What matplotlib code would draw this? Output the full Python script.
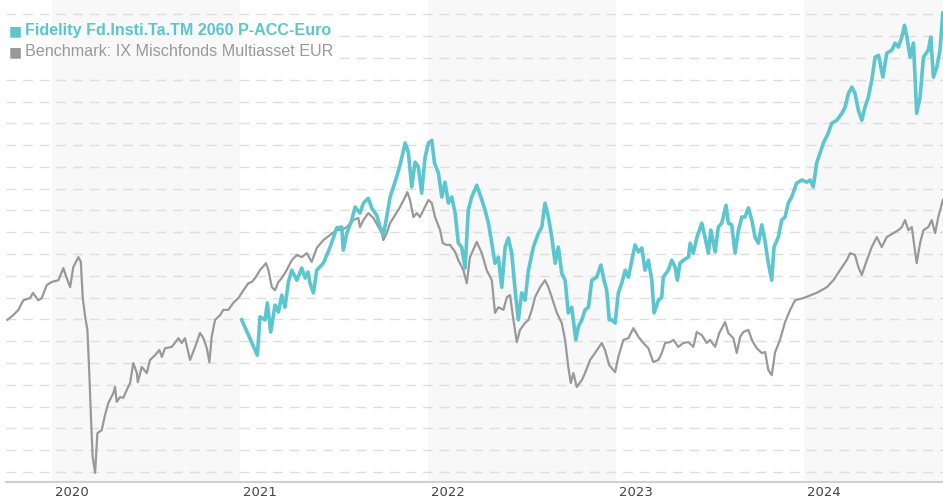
from matplotlib import pyplot as plt
import numpy as np

# benchmark: IX Mischfonds Multiasset EUR (decimal year, index value)
bench_years = [2019.762, 2019.794, 2019.821, 2019.847, 2019.883, 2019.899, 2019.926, 2019.945, 2019.972, 2019.998,
               2020.034, 2020.060, 2020.069, 2020.096, 2020.113, 2020.140, 2020.153, 2020.163, 2020.176, 2020.188,
               2020.198, 2020.206, 2020.216, 2020.229, 2020.238, 2020.241, 2020.264, 2020.282, 2020.299, 2020.326,
               2020.335, 2020.344, 2020.362, 2020.379, 2020.397, 2020.415, 2020.432, 2020.451, 2020.456, 2020.477,
               2020.504, 2020.521, 2020.548, 2020.571, 2020.584, 2020.601, 2020.637, 2020.672, 2020.690, 2020.707,
               2020.734, 2020.761, 2020.787, 2020.805, 2020.823, 2020.837, 2020.849, 2020.867, 2020.894, 2020.911,
               2020.938, 2020.964, 2020.991, 2021.018, 2021.044, 2021.062, 2021.080, 2021.106, 2021.138, 2021.151,
               2021.169, 2021.186, 2021.204, 2021.222, 2021.248, 2021.275, 2021.302, 2021.328, 2021.355, 2021.381,
               2021.408, 2021.443, 2021.479, 2021.514, 2021.541, 2021.568, 2021.603, 2021.629, 2021.638, 2021.656,
               2021.682, 2021.709, 2021.736, 2021.754, 2021.762, 2021.780, 2021.798, 2021.824, 2021.851, 2021.878,
               2021.890, 2021.904, 2021.922, 2021.940, 2021.957, 2021.975, 2022.002, 2022.020, 2022.037, 2022.064,
               2022.078, 2022.099, 2022.117, 2022.144, 2022.161, 2022.188, 2022.206, 2022.223, 2022.259, 2022.286,
               2022.312, 2022.339, 2022.356, 2022.374, 2022.401, 2022.419, 2022.436, 2022.454, 2022.472, 2022.489,
               2022.516, 2022.534, 2022.552, 2022.569, 2022.596, 2022.622, 2022.640, 2022.658, 2022.685, 2022.711,
               2022.729, 2022.746, 2022.759, 2022.773, 2022.791, 2022.818, 2022.835, 2022.862, 2022.888, 2022.924,
               2022.941, 2022.964, 2022.995, 2023.012, 2023.039, 2023.066, 2023.092, 2023.119, 2023.145, 2023.172,
               2023.198, 2023.225, 2023.243, 2023.261, 2023.287, 2023.305, 2023.331, 2023.358, 2023.385, 2023.411,
               2023.429, 2023.456, 2023.482, 2023.500, 2023.527, 2023.549, 2023.580, 2023.597, 2023.624, 2023.642,
               2023.660, 2023.677, 2023.704, 2023.722, 2023.748, 2023.775, 2023.793, 2023.810, 2023.828, 2023.846,
               2023.872, 2023.899, 2023.926, 2023.952, 2023.996, 2024.067, 2024.121, 2024.156, 2024.191, 2024.227,
               2024.245, 2024.271, 2024.289, 2024.307, 2024.334, 2024.360, 2024.387, 2024.413, 2024.440, 2024.475,
               2024.502, 2024.520, 2024.537, 2024.555, 2024.573, 2024.599, 2024.617, 2024.635, 2024.661, 2024.679,
               2024.697, 2024.714, 2024.738]
bench_values = [94.9, 96.0, 97.2, 99.4, 99.9, 101.1, 99.4, 99.9, 102.9, 103.6,
                104.0, 106.8, 105.6, 102.4, 107.0, 109.3, 108.2, 100.1, 95.6, 92.6,
                82.7, 73.5, 63.4, 59.8, 66.7, 68.9, 69.6, 73.1, 75.8, 78.1,
                79.5, 76.1, 77.2, 77.0, 78.8, 80.4, 85.0, 82.7, 80.6, 84.1,
                82.7, 85.7, 86.8, 88.0, 86.4, 88.4, 88.7, 90.7, 89.6, 90.7,
                85.7, 88.7, 91.9, 90.7, 88.4, 85.2, 91.0, 94.9, 96.0, 97.2,
                97.2, 98.8, 99.9, 101.7, 103.3, 103.6, 104.5, 106.3, 107.9, 106.3,
                102.4, 101.7, 103.6, 104.5, 106.3, 108.6, 109.8, 109.3, 110.2, 108.2,
                111.4, 113.2, 114.4, 115.5, 115.5, 116.2, 117.8, 118.3, 116.2, 117.8,
                119.4, 118.3, 116.2, 114.8, 113.2, 114.8, 117.1, 118.9, 120.8, 123.1,
                124.2, 122.4, 118.5, 119.4, 118.5, 120.1, 122.4, 121.7, 118.5, 115.5,
                112.5, 112.1, 112.1, 110.5, 108.6, 106.3, 103.3, 109.3, 112.8, 110.2,
                106.3, 104.0, 96.5, 97.8, 97.2, 100.1, 100.6, 94.9, 89.8, 92.6,
                94.2, 94.9, 97.2, 100.1, 102.4, 104.0, 102.4, 100.1, 96.5, 94.2,
                90.3, 84.1, 80.4, 82.7, 79.5, 81.1, 82.7, 85.7, 87.3, 89.6,
                88.0, 84.5, 82.9, 86.4, 90.3, 90.7, 93.0, 91.0, 89.6, 88.4,
                85.2, 85.7, 87.3, 89.6, 89.8, 90.3, 88.7, 89.6, 89.8, 88.7,
                92.1, 91.4, 89.6, 90.3, 88.7, 91.9, 94.4, 91.9, 90.7, 87.3,
                91.0, 92.1, 92.6, 90.3, 88.4, 87.3, 87.5, 83.4, 82.2, 87.5,
                90.3, 94.4, 97.2, 99.4, 99.9, 101.1, 102.4, 104.0, 106.3, 108.6,
                110.2, 109.8, 107.0, 105.2, 108.6, 111.6, 113.9, 111.6, 113.9, 114.8,
                115.5, 116.2, 117.8, 115.5, 116.2, 107.9, 112.5, 115.5, 116.2, 117.8,
                114.8, 118.5, 122.4]

# fund: Fidelity Fd.Insti.Ta.TM 2060 P-ACC-Euro
fund_years = [2021.009, 2021.092, 2021.106, 2021.133, 2021.145, 2021.163, 2021.186, 2021.204, 2021.222, 2021.239,
              2021.257, 2021.275, 2021.302, 2021.328, 2021.346, 2021.362, 2021.372, 2021.390, 2021.408, 2021.443,
              2021.479, 2021.514, 2021.541, 2021.549, 2021.568, 2021.594, 2021.612, 2021.638, 2021.656, 2021.682,
              2021.700, 2021.727, 2021.745, 2021.762, 2021.777, 2021.798, 2021.824, 2021.851, 2021.878, 2021.895,
              2021.913, 2021.931, 2021.948, 2021.966, 2021.984, 2022.002, 2022.020, 2022.034, 2022.055, 2022.073,
              2022.090, 2022.108, 2022.126, 2022.144, 2022.161, 2022.179, 2022.197, 2022.214, 2022.232, 2022.259,
              2022.286, 2022.303, 2022.321, 2022.339, 2022.356, 2022.374, 2022.392, 2022.410, 2022.427, 2022.445,
              2022.463, 2022.480, 2022.498, 2022.516, 2022.534, 2022.560, 2022.587, 2022.605, 2022.622, 2022.640,
              2022.658, 2022.676, 2022.693, 2022.711, 2022.729, 2022.746, 2022.764, 2022.786, 2022.799, 2022.818,
              2022.835, 2022.853, 2022.871, 2022.897, 2022.919, 2022.936, 2022.950, 2022.964, 2022.977, 2022.995,
              2023.012, 2023.030, 2023.048, 2023.066, 2023.084, 2023.101, 2023.119, 2023.137, 2023.154, 2023.172,
              2023.190, 2023.202, 2023.225, 2023.243, 2023.251, 2023.278, 2023.296, 2023.314, 2023.326, 2023.340,
              2023.358, 2023.385, 2023.394, 2023.411, 2023.429, 2023.456, 2023.473, 2023.491, 2023.504, 2023.527,
              2023.544, 2023.562, 2023.585, 2023.597, 2023.615, 2023.633, 2023.651, 2023.669, 2023.686, 2023.704,
              2023.722, 2023.739, 2023.757, 2023.775, 2023.793, 2023.810, 2023.828, 2023.840, 2023.863, 2023.881,
              2023.899, 2023.916, 2023.934, 2023.961, 2023.988, 2024.014, 2024.032, 2024.049, 2024.067, 2024.085,
              2024.103, 2024.129, 2024.147, 2024.174, 2024.201, 2024.218, 2024.236, 2024.254, 2024.271, 2024.289,
              2024.307, 2024.324, 2024.342, 2024.360, 2024.378, 2024.396, 2024.419, 2024.440, 2024.467, 2024.484,
              2024.502, 2024.520, 2024.534, 2024.547, 2024.564, 2024.582, 2024.599, 2024.617, 2024.635, 2024.661,
              2024.674, 2024.688, 2024.706, 2024.723, 2024.738]
fund_values = [94.9, 86.8, 95.6, 94.9, 98.8, 92.1, 98.3, 96.7, 100.6, 97.8,
               103.6, 106.3, 104.0, 106.8, 104.5, 105.9, 103.3, 101.1, 106.3, 107.9,
               111.6, 116.0, 116.2, 110.9, 114.8, 117.8, 120.8, 119.4, 121.7, 122.8,
               120.6, 118.9, 116.2, 114.4, 117.8, 123.1, 126.5, 130.4, 135.5, 133.4,
               125.4, 131.1, 130.0, 124.0, 132.2, 135.5, 136.1, 130.9, 128.6, 123.1,
               126.5, 121.7, 123.1, 119.4, 112.5, 111.6, 106.8, 120.1, 123.1, 125.8,
               122.4, 120.1, 117.1, 112.5, 107.9, 109.3, 102.4, 111.6, 113.7, 110.2,
               101.7, 94.9, 101.1, 99.4, 106.3, 111.6, 114.8, 116.2, 121.7, 118.5,
               113.9, 107.9, 111.6, 105.6, 104.0, 96.5, 97.8, 90.3, 93.3, 94.9,
               97.2, 97.8, 104.0, 104.7, 107.5, 104.0, 101.7, 94.9, 94.9, 94.2,
               101.1, 103.3, 106.3, 104.7, 108.6, 112.1, 110.5, 111.4, 106.3, 108.6,
               104.0, 96.5, 99.4, 100.1, 104.7, 106.3, 108.6, 107.0, 104.0, 107.9,
               108.6, 109.3, 112.5, 110.2, 113.7, 117.1, 113.9, 110.2, 115.5, 110.5,
               116.2, 117.1, 121.2, 117.1, 116.7, 110.2, 115.5, 118.5, 118.5, 120.6,
               117.8, 113.9, 112.5, 116.7, 112.8, 107.9, 104.0, 111.6, 113.9, 117.8,
               118.5, 121.7, 123.1, 126.3, 127.0, 126.5, 127.0, 125.4, 130.9, 133.2,
               135.5, 137.8, 140.0, 140.7, 142.3, 143.7, 146.9, 148.3, 146.9, 143.0,
               140.7, 143.7, 146.0, 149.9, 155.2, 155.6, 150.6, 156.1, 156.8, 158.4,
               157.5, 159.8, 162.5, 159.8, 155.2, 158.4, 142.3, 146.0, 155.2, 156.8,
               159.8, 150.6, 152.9, 156.8, 165.3]

year_labels = [2020, 2021, 2022, 2023, 2024]
grid_levels = np.arange(60, 166, 5)

fund_color = '#5cc6cf'
bench_color = '#999999'
band_color = '#f8f8f8'

fig = plt.figure(figsize=(9.43, 5.0), dpi=100)
ax = fig.add_axes([6 / 943, 18 / 500, 937 / 943, 482 / 500])
ax.set_xlim(2019.755, 2024.739)
ax.set_ylim(57.7, 168.3)

# alternating year bands
for yr in year_labels[::2]:
    ax.axvspan(yr, yr + 1, color=band_color, zorder=0, lw=0)

for lvl in grid_levels:
    ax.axhline(lvl, color='#dedede', lw=1, dashes=(7, 5), zorder=1)

# legend backdrop hides the grid lines behind the legend text
ax.fill_between([2019.755, 2020.0], 154.0, 162.8, color='white', lw=0, zorder=2)
ax.fill_between([2020.0, 2021.0], 154.0, 162.8, color=band_color, lw=0, zorder=2)
ax.fill_between([2021.0, 2021.505], 154.0, 162.8, color='white', lw=0, zorder=2)

ax.plot(bench_years, bench_values, color=bench_color, lw=1.6, zorder=3, solid_joinstyle='round')
ax.plot(fund_years, fund_values, color=fund_color, lw=2.6, zorder=4, solid_joinstyle='round')

for s in ['top', 'right', 'left']:
    ax.spines[s].set_visible(False)
ax.spines['bottom'].set_color('#d0d0d0')
ax.spines['bottom'].set_linewidth(1.5)
ax.set_yticks([])
ax.set_xticks([])

for yr in year_labels:
    ax.text(yr + 3 / 188, -0.008, str(yr), transform=ax.get_xaxis_transform(),
            ha='left', va='top', fontsize=9.5, color='#444444')

# legend
fig.text(9 / 943, 1 - 31 / 500, '\u25a0', color=fund_color, fontsize=10, va='center', ha='left')
fig.text(25 / 943, 1 - 31 / 500, 'Fidelity Fd.Insti.Ta.TM 2060 P-ACC-Euro', color=fund_color,
         fontsize=11.6, fontweight='bold', family='Liberation Sans', va='center', ha='left')
fig.text(9 / 943, 1 - 52 / 500, '\u25a0', color=bench_color, fontsize=10, va='center', ha='left')
fig.text(25 / 943, 1 - 52 / 500, 'Benchmark: IX Mischfonds Multiasset EUR', color=bench_color,
         fontsize=11.6, family='Liberation Sans', va='center', ha='left')

fig.savefig('out.png', dpi=100)
